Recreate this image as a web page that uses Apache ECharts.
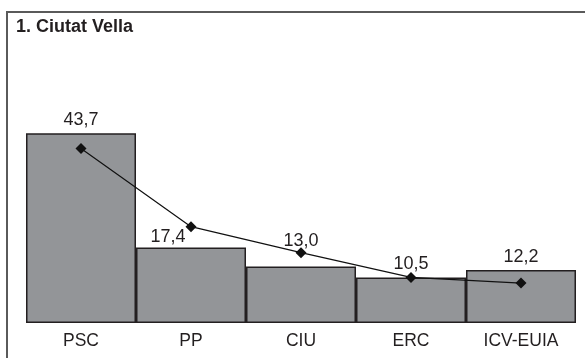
<!DOCTYPE html>
<html>
<head>
<meta charset="utf-8">
<script src="https://cdn.jsdelivr.net/npm/echarts@6/dist/echarts.min.js"></script>
<style>html,body{margin:0;padding:0;background:#fff;}#c{width:585px;height:358px;}</style>
</head>
<body>
<div id="c"></div>
<script>
const categories = ['PSC', 'PP', 'CIU', 'ERC', 'ICV-EUIA'];
const barValues = [43.7, 17.4, 13.0, 10.5, 12.2];
const lineValues = [40.2, 22.2, 16.2, 10.5, 9.2];
const title = '1. Ciutat Vella';

const labelOffsets = { 1: [-23, 3], 2: [0, -13] };
const fmt = v => v.toFixed(1).replace('.', ',');

const chart = echarts.init(document.getElementById('c'), null, { renderer: 'canvas' });
const font = '"Liberation Sans", Arial, Helvetica, sans-serif';
chart.setOption({
  animation: false,
  backgroundColor: '#fff',
  graphic: [
    { type: 'rect', shape: { x: 7, y: 12, width: 800, height: 600 }, style: { fill: 'none', stroke: '#5a5a5a', lineWidth: 2 }, z: 0 },
    { type: 'text', left: 16, top: 18, style: { text: title, font: 'bold 18px ' + font, fill: '#231f20' } }
  ],
  grid: { left: 26, right: 9, top: 106, bottom: 35 },
  xAxis: {
    type: 'category', data: categories,
    axisLine: { show: false }, axisTick: { show: false },
    axisLabel: { color: '#231f20', fontSize: 17.5, fontFamily: font, margin: 9 }
  },
  yAxis: { type: 'value', min: 0, max: 50, show: false, splitLine: { show: false } },
  series: [
    {
      type: 'bar', barCategoryGap: 0, barGap: 0,
      data: barValues.map((v, i) => ({
        value: v,
        label: labelOffsets[i] ? { offset: labelOffsets[i] } : undefined
      })),
      itemStyle: { color: '#939598', borderColor: '#231f20', borderWidth: 1.5 },
      label: {
        show: true, position: 'top', distance: 4,
        color: '#231f20', fontSize: 18, fontFamily: font,
        formatter: p => fmt(p.value)
      },
      z: 2
    },
    {
      type: 'line', data: lineValues,
      symbol: 'diamond', symbolSize: [11, 11],
      lineStyle: { color: '#111', width: 1.2 },
      itemStyle: { color: '#111' },
      z: 3
    }
  ]
});
</script>
</body>
</html>
